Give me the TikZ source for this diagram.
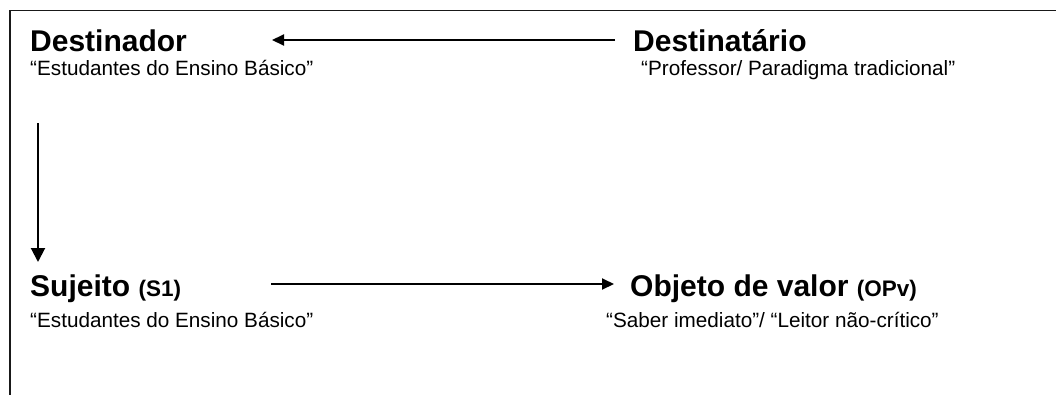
\documentclass[tikz,border=0pt]{standalone}
\usepackage{fontspec}
\setmainfont{Liberation Sans}
\usetikzlibrary{arrows.meta}
\newcommand{\mytagfont}{\fontsize{22.5}{24}\selectfont\bfseries}
\begin{document}
\begin{tikzpicture}[x=1pt,y=-1pt,
  frameline/.style={line width=1.8pt,black!90},
  conn/.style={line width=2pt,-{Triangle[length=12pt,width=11pt]}},
  vconn/.style={line width=2pt,-{Triangle[length=14pt,width=14pt]}},
  head/.style={anchor=base west,inner sep=0pt,font=\fontsize{30}{32}\selectfont\bfseries},
  sub/.style={anchor=base west,inner sep=0pt,font=\fontsize{20.7}{24}\selectfont}]
\useasboundingbox (0,0) rectangle (1056,394);
\draw[frameline] (10,396) -- (10,10.5) -- (1058,10.5);
\node[head] (dtor) at (30,51) {Destinador};
\node[sub] (dtorsub) at (30,75) {“Estudantes do Ensino Básico”};
\node[head] (dtario) at (633,51) {Destinatário};
\node[sub] (dtariosub) at (641,75) {“Professor/ Paradigma tradicional”};
\node[head] (suj) at (30,296) {Sujeito {\mytagfont(S1)}};
\node[sub] (sujsub) at (30,327) {“Estudantes do Ensino Básico”};
\node[head] (obj) at (630,296) {Objeto de valor {\mytagfont(OPv)}};
\node[sub] (objsub) at (606,327) {“Saber imediato”/ “Leitor não-crítico”};
\coordinate (a1s) at (615,40);
\coordinate (a1e) at (272,40);
\coordinate (a2s) at (38,123);
\coordinate (a2e) at (38,262);
\coordinate (a3s) at (271,284);
\coordinate (a3e) at (614,284);
\draw[conn] (a1s) -- (a1e);
\draw[vconn] (a2s) -- (a2e);
\draw[conn] (a3s) -- (a3e);
\end{tikzpicture}
\end{document}
